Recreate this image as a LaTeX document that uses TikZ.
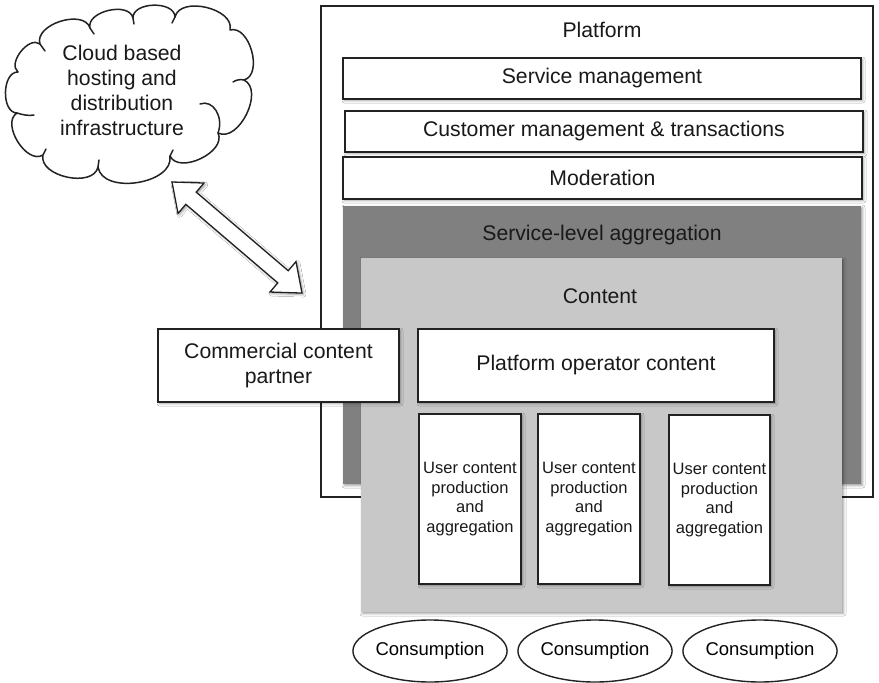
\documentclass[tikz,border=0pt]{standalone}
\usepackage{fontspec}
\setmainfont{Liberation Sans}
\usetikzlibrary{shapes.geometric,shadows.blur}
\definecolor{darkagg}{HTML}{808080}
\definecolor{lightcont}{HTML}{C8C8C8}
\definecolor{edge}{HTML}{222222}
\tikzset{
  sh/.style={blur shadow={shadow xshift=1.5pt,shadow yshift=-1.5pt,shadow blur radius=2.5pt,shadow opacity=40}},
  wbox/.style={draw=edge,line width=1.4pt,fill=white,sh,inner sep=0pt},
  big/.style={font=\fontsize{21.2}{25}\selectfont,text=black!90},
  small/.style={font=\fontsize{16.5}{19.5}\selectfont,text=black!90,align=center},
  consume/.style={ellipse,draw=edge,line width=1.4pt,fill=white,inner sep=0pt,font=\fontsize{18.5}{22}\selectfont},
  cloudline/.style={draw=edge,line width=1.5pt,line cap=round,line join=round},
  puff/.style={bend left=90,looseness=1.0},
}
\begin{document}
\begin{tikzpicture}[x=1pt,y=-1pt]
\useasboundingbox[fill=white] (0,0) rectangle (879,683);
% platform
\node[draw=edge,line width=1.8pt,fill=white,minimum width=552,minimum height=491,inner sep=0pt] (platform) at (597,251.5) {};
\node[big] (platformlbl) at (602,30) {Platform};
\node[wbox,big,minimum width=518,minimum height=41] (svc) at (602,78.5) {Service management};
\node[wbox,big,minimum width=518,minimum height=41] (cust) at (604,131.5) {Customer management \& transactions};
\node[wbox,big,minimum width=519,minimum height=42] (mod) at (602.5,178) {Moderation};
% aggregation
\node[fill=darkagg,sh,minimum width=518,minimum height=278,inner sep=0pt] (agg) at (602,345) {};
\node[big] (agglbl) at (602,235) {Service-level aggregation};
% content
\node[fill=lightcont,sh,minimum width=481,minimum height=354,inner sep=0pt] (content) at (601.5,435) {};
\node[big] (contentlbl) at (600,296) {Content};
\node[wbox,big,minimum width=356,minimum height=73] (poc) at (596,365.5) {Platform operator content};
\node[wbox,big,align=center,minimum width=241,minimum height=73] (ccp) at (278.5,365.5) {Commercial content\\partner};
% user content
\node[wbox,small,minimum width=102,minimum height=170] (u1) at (470,499) {User content\\production\\and\\aggregation};
\node[wbox,small,minimum width=102,minimum height=170] (u2) at (589,499) {User content\\production\\and\\aggregation};
\node[wbox,small,minimum width=101,minimum height=170] (u3) at (719.5,500) {User content\\production\\and\\aggregation};
% consumption
\node[consume,minimum width=151,minimum height=62] (c1) at (430,651) {Consumption};
\node[consume,minimum width=151,minimum height=62] (c2) at (595,651) {Consumption};
\node[consume,minimum width=151,minimum height=62] (c3) at (760,651) {Consumption};
% cloud
\draw[cloudline,fill=white]
  (18,72) to[puff] (40,44) to[puff] (90,28) to[puff] (133,18) to[puff] (175,17)
  to[puff] (230,30) to[puff] (244,80) to[puff] (218,133) to[puff] (170,156)
  to[puff] (98,167) to[puff] (43,155) to[puff] (17,113) to[puff] (18,72) -- cycle;
\draw[cloudline] (200,104) .. controls (213,99) and (224,117) .. (218,133);
\draw[cloudline] (17,113) .. controls (23,115) and (29,116) .. (34,115);
\draw[cloudline] (244,80) .. controls (240,79) and (236,80) .. (233,82);
\draw[cloudline] (90,28) .. controls (92,31) .. (94,34);
\draw[cloudline] (133,18) .. controls (134,21) .. (134,24);
\draw[cloudline] (175,17) .. controls (174,20) .. (172,23);
\draw[cloudline] (98,167) .. controls (98,164) .. (99,160);
\draw[cloudline] (170,156) .. controls (171,153) .. (173,150);
\draw[cloudline] (43,155) .. controls (44,152) .. (46,149);
\draw[cloudline] (40,44) .. controls (42,47) .. (45,51);
\node[big,align=center] (cloudtext) at (122,90) {Cloud based\\hosting and\\distribution\\infrastructure};
% double arrow
\coordinate (arrA) at (172,182);
\coordinate (arrB) at (302,293);
\begin{scope}[shift={(arrA)},rotate=-40.5]
\draw[draw=edge,line width=1.3pt,fill=white,sh,line join=miter]
  (0,0) -- (25,20) -- (25,8) -- (146,8) -- (146,20) -- (171,0) -- (146,-20) -- (146,-8) -- (25,-8) -- (25,-20) -- cycle;
\end{scope}
\end{tikzpicture}
\end{document}
